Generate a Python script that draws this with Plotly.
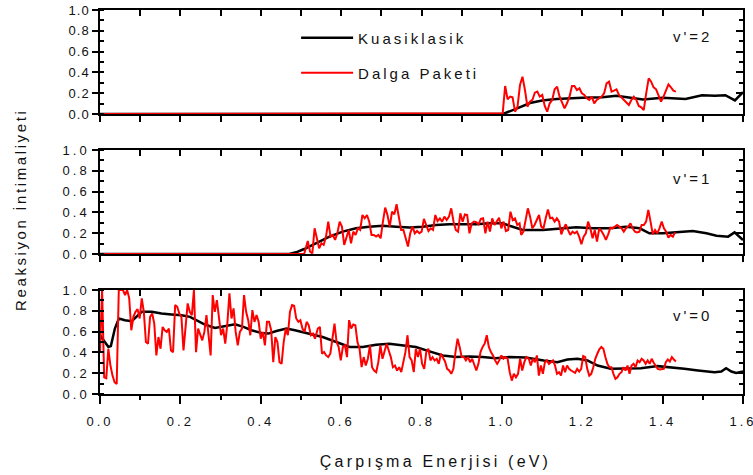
import numpy as np
import plotly.graph_objects as go

# ---------------- data ----------------
# v'=2  (top panel)
qc_e_v2 = [0.0, 0.98, 1.003, 1.035, 1.07, 1.10, 1.136, 1.20, 1.25, 1.285, 1.32, 1.351, 1.40,
           1.457, 1.498, 1.53, 1.556, 1.58, 1.60]
qc_p_v2 = [0.0, 0.0, 0.0, 0.05, 0.105, 0.13, 0.144, 0.157, 0.16, 0.176, 0.16, 0.14, 0.157,
           0.144, 0.18, 0.175, 0.18, 0.13, 0.21]
wp_zero_v2 = [0.0, 1.0]          # energies where the wave-packet result is zero
wp_span_v2 = [1.002, 1.433]      # energy span of the sampled wave-packet values
wp_p_v2 = [0.006, 0.269, 0.141, 0.167, 0.16, 0.022, 0.07, 0.279, 0.359, 0.231, 0.07, 0.119,
           0.135, 0.205, 0.215, 0.167, 0.183, 0.077, 0.022, 0.103, 0.135, 0.237, 0.263, 0.167,
           0.103, 0.054, 0.103, 0.167, 0.269, 0.269, 0.231, 0.247, 0.199, 0.183, 0.151, 0.135,
           0.167, 0.103, 0.135, 0.151, 0.167, 0.199, 0.295, 0.311, 0.215, 0.224, 0.237, 0.183,
           0.16, 0.135, 0.119, 0.087, 0.135, 0.167, 0.135, 0.077, 0.064, 0.038, 0.199, 0.343,
           0.311, 0.256, 0.237, 0.183, 0.119, 0.167, 0.231, 0.285, 0.256, 0.224, 0.215]

# v'=1  (middle panel)
qc_e_v1 = [0.0, 0.471, 0.488, 0.508, 0.537, 0.571, 0.604, 0.637, 0.67, 0.703, 0.737, 0.77,
           0.803, 0.836, 0.869, 0.902, 0.936, 0.969, 1.002, 1.019, 1.052, 1.102, 1.143, 1.185,
           1.226, 1.268, 1.309, 1.343, 1.367, 1.401, 1.434, 1.475, 1.509, 1.534, 1.563, 1.579, 1.60]
qc_p_v1 = [0.0, 0.0, 0.016, 0.048, 0.103, 0.167, 0.215, 0.247, 0.263, 0.272, 0.263, 0.256,
           0.263, 0.279, 0.285, 0.285, 0.285, 0.295, 0.295, 0.272, 0.231, 0.231, 0.24, 0.256,
           0.247, 0.247, 0.263, 0.247, 0.199, 0.199, 0.208, 0.221, 0.199, 0.176, 0.167, 0.208, 0.135]
wp_zero_v1 = [0.0, 0.508]
wp_span_v1a = [0.517, 1.044]
wp_p_v1a = [0.125, 0.022, 0.006, 0.247, 0.151, 0.054, 0.103, 0.087, 0.167, 0.311, 0.167, 0.183,
            0.135, 0.199, 0.311, 0.263, 0.087, 0.167, 0.231, 0.103, 0.215, 0.183, 0.247, 0.231,
            0.375, 0.343, 0.375, 0.311, 0.183, 0.183, 0.167, 0.183, 0.151, 0.311, 0.446, 0.375,
            0.263, 0.407, 0.381, 0.478, 0.343, 0.231, 0.231, 0.151, 0.071, 0.199, 0.263, 0.199,
            0.221, 0.199, 0.215, 0.337, 0.285, 0.221, 0.247, 0.231, 0.375, 0.317, 0.343, 0.311,
            0.359, 0.327, 0.359, 0.439, 0.311, 0.231, 0.215, 0.391, 0.311, 0.381, 0.375, 0.199,
            0.295, 0.311, 0.305, 0.285, 0.337, 0.343, 0.199, 0.311, 0.215, 0.343, 0.279, 0.311,
            0.349, 0.247, 0.311, 0.221, 0.231, 0.407, 0.327, 0.343, 0.279, 0.295]
wp_span_v1b = [1.048, 1.431]
wp_p_v1b = [0.183, 0.215, 0.343, 0.439, 0.359, 0.247, 0.279, 0.327, 0.375, 0.263, 0.247, 0.343,
            0.429, 0.343, 0.349, 0.311, 0.343, 0.311, 0.189, 0.247, 0.285, 0.231, 0.183, 0.215,
            0.199, 0.215, 0.167, 0.093, 0.167, 0.199, 0.311, 0.247, 0.151, 0.231, 0.119, 0.247,
            0.221, 0.183, 0.135, 0.189, 0.253, 0.247, 0.263, 0.279, 0.263, 0.247, 0.215, 0.247,
            0.263, 0.295, 0.247, 0.215, 0.208, 0.215, 0.279, 0.279, 0.311, 0.423, 0.311, 0.189,
            0.231, 0.199, 0.247, 0.311, 0.247, 0.215, 0.157, 0.183, 0.167, 0.208]

# v'=0  (bottom panel)
qc_e_v0 = [0.0, 0.021, 0.027, 0.037, 0.047, 0.062, 0.079, 0.091, 0.104, 0.129, 0.153, 0.178,
           0.203, 0.224, 0.24, 0.261, 0.286, 0.311, 0.336, 0.357, 0.377, 0.402, 0.419, 0.439,
           0.464, 0.485, 0.51, 0.535, 0.554, 0.588, 0.621, 0.654, 0.687, 0.72, 0.753, 0.786,
           0.82, 0.853, 0.886, 0.919, 0.952, 0.985, 1.018, 1.059, 1.104, 1.138, 1.163, 1.188,
           1.213, 1.238, 1.271, 1.304, 1.346, 1.388, 1.421, 1.454, 1.488, 1.529, 1.546, 1.558,
           1.571, 1.583, 1.60]
qc_p_v0 = [0.565, 0.452, 0.461, 0.629, 0.726, 0.71, 0.70, 0.742, 0.79, 0.79, 0.774, 0.765,
           0.758, 0.742, 0.71, 0.668, 0.635, 0.655, 0.671, 0.645, 0.613, 0.587, 0.581, 0.606,
           0.629, 0.613, 0.59, 0.565, 0.548, 0.50, 0.452, 0.452, 0.474, 0.484, 0.468, 0.452,
           0.41, 0.371, 0.355, 0.361, 0.355, 0.345, 0.355, 0.35, 0.323, 0.306, 0.332, 0.339,
           0.323, 0.274, 0.242, 0.242, 0.248, 0.268, 0.258, 0.242, 0.226, 0.21, 0.216, 0.248,
           0.216, 0.203, 0.216]
wp_span_v0a = [0.0, 0.535]
wp_p_v0a = [0.403, 1.0, 0.161, 0.152, 0.435, 0.274, 0.177, 0.113, 0.097, 1.0, 1.0, 1.0, 0.952,
            1.0, 0.92, 0.613, 0.742, 0.79, 0.816, 0.726, 0.919, 0.79, 0.5, 0.484, 0.742, 0.774,
            0.677, 0.371, 0.548, 0.435, 0.645, 0.613, 0.597, 0.629, 0.419, 0.403, 0.855, 0.839,
            0.774, 0.742, 0.419, 0.694, 0.871, 0.79, 0.758, 1.0, 0.403, 0.629, 0.565, 0.516,
            0.597, 0.758, 0.565, 0.371, 0.952, 0.79, 0.903, 0.742, 0.565, 0.629, 0.484, 0.677,
            0.968, 0.726, 0.823, 0.597, 0.468, 0.597, 0.629, 0.952, 0.79, 0.71, 0.565, 0.806,
            0.694, 0.758, 0.694, 0.532, 0.597, 0.468, 0.694, 0.694, 0.613, 0.306, 0.548, 0.5,
            0.306, 0.29, 0.5, 0.629, 0.565, 0.79, 0.855, 0.848, 0.726, 0.694, 0.71, 0.629, 0.597,
            0.694, 0.661, 0.565, 0.581, 0.532]
wp_span_v0b = [0.542, 1.061]
wp_p_v0b = [0.629, 0.645, 0.387, 0.403, 0.371, 0.355, 0.387, 0.532, 0.677, 0.5, 0.452, 0.323,
            0.452, 0.468, 0.355, 0.71, 0.629, 0.668, 0.661, 0.5, 0.435, 0.258, 0.355, 0.274,
            0.339, 0.468, 0.258, 0.226, 0.21, 0.306, 0.468, 0.339, 0.419, 0.484, 0.419, 0.355,
            0.258, 0.274, 0.226, 0.258, 0.21, 0.306, 0.403, 0.565, 0.355, 0.323, 0.21, 0.435,
            0.355, 0.435, 0.29, 0.242, 0.403, 0.435, 0.323, 0.355, 0.323, 0.339, 0.29, 0.387,
            0.355, 0.313, 0.242, 0.226, 0.194, 0.242, 0.403, 0.532, 0.452, 0.355, 0.355, 0.323,
            0.355, 0.306, 0.339, 0.29, 0.226, 0.29, 0.403, 0.452, 0.484, 0.565, 0.452, 0.403,
            0.371, 0.323, 0.29, 0.323, 0.371, 0.339, 0.355, 0.339, 0.21, 0.129, 0.194, 0.161,
            0.194, 0.339, 0.226, 0.306, 0.355]
wp_span_v0c = [1.067, 1.433]
wp_p_v0c = [0.339, 0.274, 0.339, 0.306, 0.371, 0.177, 0.274, 0.194, 0.306, 0.323, 0.29, 0.306,
            0.323, 0.274, 0.194, 0.21, 0.177, 0.274, 0.21, 0.274, 0.242, 0.226, 0.21, 0.203,
            0.242, 0.216, 0.242, 0.365, 0.355, 0.242, 0.177, 0.194, 0.258, 0.339, 0.387, 0.429,
            0.452, 0.435, 0.355, 0.29, 0.258, 0.258, 0.194, 0.145, 0.161, 0.194, 0.21, 0.258,
            0.226, 0.274, 0.194, 0.274, 0.29, 0.258, 0.323, 0.306, 0.339, 0.323, 0.29, 0.323,
            0.29, 0.339, 0.3, 0.274, 0.242, 0.235, 0.242, 0.242, 0.306, 0.332, 0.313, 0.355,
            0.332, 0.313]

panel_labels = ["v'=2", "v'=1", "v'=0"]
series_names = ["Kuasiklasik", "Dalga Paketi"]
x_ticks = [0.0, 0.2, 0.4, 0.6, 0.8, 1.0, 1.2, 1.4, 1.6]
y_ticks = [0.0, 0.2, 0.4, 0.6, 0.8, 1.0]
x_title = "Çarpışma Enerjisi (eV)"
y_title = "Reaksiyon İntimaliyeti"


def grid(span, vals):
    return list(np.linspace(span[0], span[1], len(vals)))


wp_e_v2 = wp_zero_v2 + grid(wp_span_v2, wp_p_v2)
wp_pp_v2 = [0.0, 0.0] + wp_p_v2
wp_e_v1 = wp_zero_v1 + grid(wp_span_v1a, wp_p_v1a) + grid(wp_span_v1b, wp_p_v1b)
wp_pp_v1 = [0.0, 0.0] + wp_p_v1a + wp_p_v1b
wp_e_v0 = grid(wp_span_v0a, wp_p_v0a) + grid(wp_span_v0b, wp_p_v0b) + grid(wp_span_v0c, wp_p_v0c)
wp_pp_v0 = wp_p_v0a + wp_p_v0b + wp_p_v0c

# ---------------- figure ----------------
FONT = "Liberation Sans, Arial, sans-serif"
TXT = "#111"
fig = go.Figure()

panels = [
    (qc_e_v2, qc_p_v2, wp_e_v2, wp_pp_v2),
    (qc_e_v1, qc_p_v1, wp_e_v1, wp_pp_v1),
    (qc_e_v0, qc_p_v0, wp_e_v0, wp_pp_v0),
]
domains = [[0.7292, 1.0], [0.3646, 0.6354], [0.0, 0.2708]]

for i, (qe, qp, we, wpv) in enumerate(panels):
    ax = "" if i == 0 else str(i + 1)
    fig.add_trace(go.Scatter(x=qe, y=qp, mode="lines", name=series_names[0],
                             line=dict(color="black", width=2.5),
                             xaxis="x" + ax, yaxis="y" + ax,
                             showlegend=(i == 0), legend="legend"))
    fig.add_trace(go.Scatter(x=we, y=wpv, mode="lines", name=series_names[1],
                             line=dict(color="#ff0000", width=2),
                             xaxis="x" + ax, yaxis="y" + ax,
                             showlegend=(i == 0), legend="legend2"))

layout = dict(
    width=753, height=475,
    margin=dict(l=100, r=10, t=10, b=81, autoexpand=False),
    plot_bgcolor="white", paper_bgcolor="white",
    font=dict(family=FONT, size=13, color=TXT),
    showlegend=True,
    legend=dict(x=0.305, y=0.927, xanchor="left", yanchor="middle",
                bgcolor="rgba(0,0,0,0)", font=dict(size=15, family=FONT, color=TXT),
                itemwidth=52),
    legend2=dict(x=0.305, y=0.836, xanchor="left", yanchor="middle",
                 bgcolor="rgba(0,0,0,0)", font=dict(size=15, family=FONT, color=TXT),
                 itemwidth=52),
)

for i in range(3):
    ax = "" if i == 0 else str(i + 1)
    bottom = (i == 2)
    xa = dict(domain=[0, 1], range=[0, 1.6], anchor="y" + ax, automargin=False,
              showline=True, linecolor="black", linewidth=1.5,
              showgrid=False, zeroline=False,
              ticks="outside", tickcolor="black", tickwidth=1.5,
              tickfont=dict(size=13, family=FONT, color=TXT))
    if bottom:
        xa.update(tickvals=x_ticks, ticklen=8, showticklabels=True, tickformat=".1f",
                  ticklabelstandoff=7,
                  minor=dict(dtick=0.1, tick0=0, ticks="outside", ticklen=4,
                             tickcolor="black", tickwidth=1.5))
    else:
        xa.update(tick0=0, dtick=0.1, ticklen=6, showticklabels=False)
        xa["matches"] = "x3"
    layout["xaxis" + ax] = xa
    layout["yaxis" + ax] = dict(domain=domains[i], range=[0, 1.0], anchor="x" + ax,
                                automargin=False,
                                showline=True, linecolor="black", linewidth=1.5,
                                showgrid=False, zeroline=False,
                                tickvals=y_ticks, tickformat=".1f",
                                ticks="outside", ticklen=6, tickcolor="black", tickwidth=1.5,
                                minor=dict(dtick=0.1, tick0=0, ticks="inside", ticklen=4,
                                           tickcolor="black", tickwidth=1.5),
                                tickfont=dict(size=13, family=FONT, color=TXT))
    # top frame with inward ticks
    layout["xaxis" + str(i + 4)] = dict(overlaying="x" + ax, anchor="y" + ax, side="top",
                                        range=[0, 1.6], tick0=0, dtick=0.1, automargin=False,
                                        ticks="inside", ticklen=6, tickcolor="black", tickwidth=1.5,
                                        showticklabels=False, showline=True, linecolor="black",
                                        linewidth=1.5, showgrid=False, zeroline=False)
    # right frame with inward ticks
    layout["yaxis" + str(i + 4)] = dict(overlaying="y" + ax, anchor="x" + ax, side="right",
                                        range=[0, 1.0], tick0=0, dtick=0.2, automargin=False,
                                        ticks="inside", ticklen=7, tickcolor="black", tickwidth=1.5,
                                        minor=dict(dtick=0.1, tick0=0, ticks="inside", ticklen=4,
                                                   tickcolor="black", tickwidth=1.5),
                                        showticklabels=False, showline=True, linecolor="black",
                                        linewidth=1.5, showgrid=False, zeroline=False)

fig.update_layout(**layout)

# invisible traces so the overlay frame axes are drawn
for i in range(3):
    ax = "" if i == 0 else str(i + 1)
    fig.add_trace(go.Scatter(x=[None], y=[None], xaxis="x" + str(i + 4), yaxis="y" + ax,
                             showlegend=False, hoverinfo="skip"))
    fig.add_trace(go.Scatter(x=[None], y=[None], xaxis="x" + ax, yaxis="y" + str(i + 4),
                             showlegend=False, hoverinfo="skip"))

label_y = [0.743, 0.73, 0.753]
for i, txt in enumerate(panel_labels):
    ax = "" if i == 0 else str(i + 1)
    fig.add_annotation(text=txt, x=1.475, y=label_y[i], xref="x" + ax, yref="y" + ax,
                       xanchor="center", yanchor="middle",
                       showarrow=False, font=dict(size=15, family=FONT, color=TXT))

fig.add_annotation(text=x_title, x=0.521, y=-0.177, xref="paper", yref="paper",
                   xanchor="center", yanchor="middle",
                   showarrow=False, font=dict(size=16, family=FONT, color=TXT))
fig.add_annotation(text=y_title, x=-0.124, y=0.479, xref="paper", yref="paper",
                   xanchor="center", yanchor="middle",
                   textangle=-90, showarrow=False,
                   font=dict(size=15, family=FONT, color=TXT))

css = (".main-svg text{letter-spacing:3px;}"
       ".xtick text,.ytick text{letter-spacing:1px;}"
       ".annotation[data-index=\"3\"] text{letter-spacing:3.2px;}"
       ".annotation[data-index=\"4\"] text{letter-spacing:2.6px;}"
       ".legend,.legend *,.legend2,.legend2 *{clip-path:none !important;}")
spacing_js = ("var s=document.createElement('style');"
              "s.textContent='" + css.replace("'", "\\'") + "';"
              "document.head.appendChild(s);"
              "var gd=document.getElementById('{plot_id}');"
              "Plotly.relayout(gd, {'legend.x': 0.305, 'legend2.x': 0.305});")
fig.write_html("out.html", post_script=spacing_js)
